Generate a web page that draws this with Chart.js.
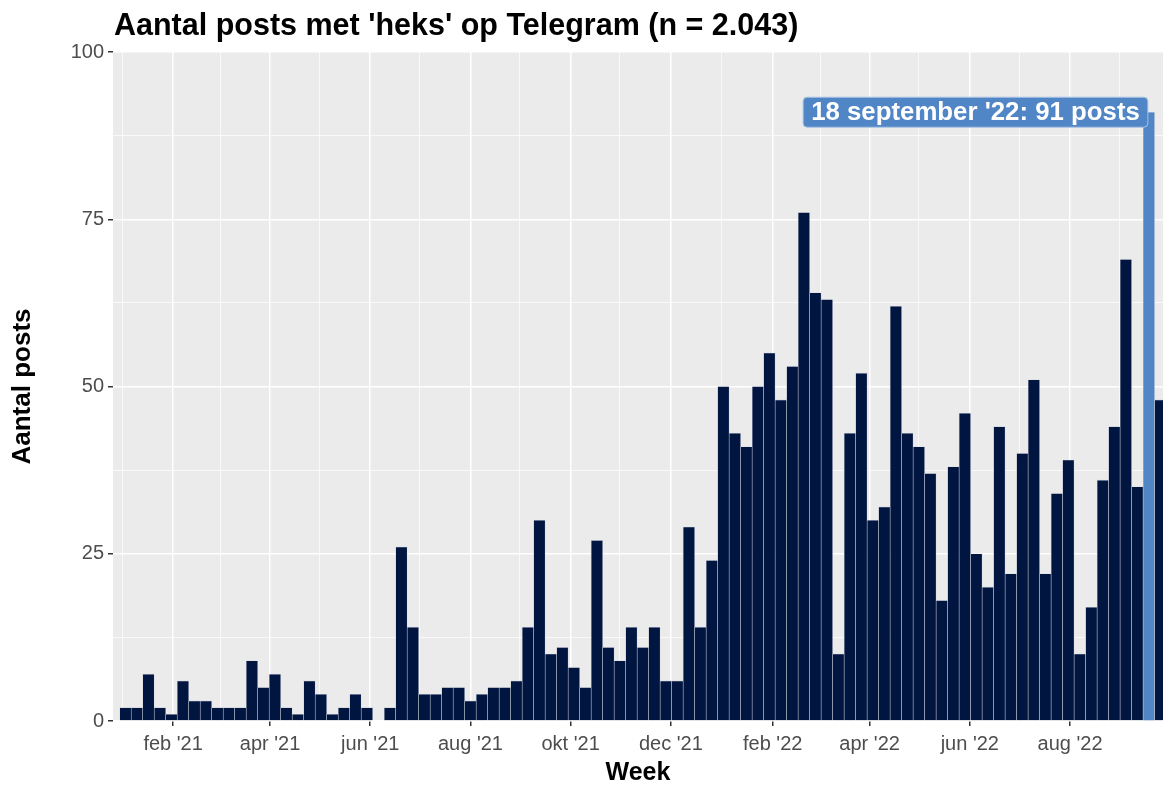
<!DOCTYPE html>
<html>
<head>
<meta charset="utf-8">
<script src="https://cdn.jsdelivr.net/npm/chart.js@4"></script>
<style>
  html, body { margin: 0; padding: 0; background: #fff; }
</style>
</head>
<body>
<canvas id="chart" width="1163" height="785"></canvas>
<script>
// weekly counts, first week starts on 3 januari 2021
let firstWeek = '2021-01-03';
let posts = [2, 2, 7, 2, 1, 6, 3, 3, 2, 2, 2, 9, 5, 7, 2, 1, 6, 4, 1, 2, 4, 2, 0, 2,
  26, 14, 4, 4, 5, 5, 3, 4, 5, 5, 6, 14, 30, 10, 11, 8, 5, 27, 11, 9, 14, 11, 14, 6, 6,
  29, 14, 24, 50, 43, 41, 50, 55, 48, 53, 76, 64, 63, 10, 43, 52, 30, 32, 62, 43, 41,
  37, 18, 38, 46, 25, 20, 44, 22, 40, 51, 22, 34, 39, 10, 17, 36, 44, 69, 35, 91, 48];
let highlightWeek = 89; // 18 september '22
let highlightLabel = "18 september '22: 91 posts";

// x axis month ticks (major) and the gridlines in between (minor)
let tickDates = ['2021-02-01', '2021-04-01', '2021-06-01', '2021-08-01', '2021-10-01', '2021-12-01',
  '2022-02-01', '2022-04-01', '2022-06-01', '2022-08-01'];
let tickLabels = ["feb '21", "apr '21", "jun '21", "aug '21", "okt '21", "dec '21",
  "feb '22", "apr '22", "jun '22", "aug '22"];
let minorDates = ['2021-01-01', '2021-03-02', '2021-05-01', '2021-07-01', '2021-08-31', '2021-10-31',
  '2022-01-01', '2022-03-02', '2022-05-01', '2022-07-01', '2022-08-31'];
let yTicks = [0, 25, 50, 75, 100];

const FONT = '"Liberation Sans", Arial, sans-serif';

// days since first week
function dayOf(s) {
  return (Date.parse(s) - Date.parse(firstWeek)) / 86400000;
}

let points = posts.map((v, i) => ({ x: i * 7, y: v }));
let majorDays = tickDates.map(dayOf);
let minorDays = minorDates.map(dayOf);

function isMajor(v) {
  return majorDays.some(d => Math.abs(d - v) < 0.01);
}
function tickVal(ctx) {
  return ctx.tick ? ctx.tick.value : NaN;
}

const panelBg = {
  id: 'panelBg',
  beforeDraw(chart) {
    const a = chart.chartArea;
    const ctx = chart.ctx;
    ctx.save();
    ctx.fillStyle = '#ebebeb';
    ctx.fillRect(a.left, a.top, a.right - a.left, a.bottom - a.top);
    ctx.restore();
  }
};

const extras = {
  id: 'extras',
  afterDraw(chart) {
    const ctx = chart.ctx;
    const xs = chart.scales.x, ys = chart.scales.y;
    // title
    ctx.save();
    ctx.fillStyle = '#000';
    ctx.font = 'bold 30.5px ' + FONT;
    ctx.textBaseline = 'alphabetic';
    ctx.fillText("Aantal posts met 'heks' op Telegram (n = 2.043)", 114, 35);

    // label for the highlighted week
    const px = xs.getPixelForValue(highlightWeek * 7) - 1;
    const py = ys.getPixelForValue(posts[highlightWeek]);
    ctx.font = 'bold 25.8px ' + FONT;
    const w = ctx.measureText(highlightLabel).width + 16;
    const h = 30;
    const x0 = px - w, y0 = py - h / 2;
    ctx.beginPath();
    ctx.roundRect(x0, y0, w, h, 4);
    ctx.fillStyle = '#5085c6';
    ctx.fill();
    ctx.strokeStyle = '#a9c3e4';
    ctx.lineWidth = 1;
    ctx.stroke();
    ctx.fillStyle = '#fff';
    ctx.textAlign = 'center';
    ctx.textBaseline = 'middle';
    ctx.fillText(highlightLabel, x0 + w / 2, py + 1);
    ctx.restore();
  }
};

let chart = new Chart(document.getElementById('chart'), {
  type: 'bar',
  data: {
    datasets: [{
      data: points,
      backgroundColor: posts.map((v, i) => i === highlightWeek ? '#5085c6' : '#001540'),
      borderColor: 'rgba(195,200,212,0.75)',
      borderWidth: 0.6,
      categoryPercentage: 1,
      barPercentage: 1
    }]
  },
  options: {
    responsive: false,
    animation: false,
    devicePixelRatio: 1,
    layout: { padding: { top: 52, right: 0, bottom: 0, left: 0 } },
    plugins: {
      legend: { display: false },
      tooltip: { enabled: false }
    },
    scales: {
      x: {
        type: 'linear',
        offset: false,
        min: -7.6,
        max: 631.6,
        afterFit(scale) { scale.height = 64; },
        afterBuildTicks(scale) {
          scale.ticks = majorDays.concat(minorDays).sort((a, b) => a - b).map(v => ({ value: v }));
        },
        border: { display: false },
        grid: {
          offset: false,
          color: '#ffffff',
          lineWidth: ctx => isMajor(tickVal(ctx)) ? 1.5 : 0.7,
          tickColor: ctx => isMajor(tickVal(ctx)) ? '#333333' : 'rgba(0,0,0,0)',
          tickLength: 5
        },
        ticks: {
          autoSkip: false,
          maxRotation: 0,
          padding: 6,
          color: '#4d4d4d',
          font: { family: FONT, size: 20 },
          callback: v => {
            const k = majorDays.findIndex(d => Math.abs(d - v) < 0.01);
            return k >= 0 ? tickLabels[k] : '';
          }
        },
        title: {
          display: true,
          text: 'Week',
          color: '#000',
          font: { family: FONT, size: 25, weight: 'bold' },
          padding: { top: 0, bottom: -3 }
        }
      },
      y: {
        min: 0,
        max: 100,
        afterFit(scale) { scale.width = 113; },
        afterBuildTicks(scale) {
          const t = [];
          yTicks.forEach((v, i) => {
            t.push({ value: v });
            if (i < yTicks.length - 1) t.push({ value: v + 12.5 });
          });
          scale.ticks = t;
        },
        border: { display: false },
        grid: {
          color: '#ffffff',
          lineWidth: ctx => yTicks.includes(tickVal(ctx)) ? 1.5 : 0.7,
          tickColor: ctx => yTicks.includes(tickVal(ctx)) ? '#333333' : 'rgba(0,0,0,0)',
          tickLength: 5
        },
        ticks: {
          padding: 4,
          color: '#4d4d4d',
          font: { family: FONT, size: 20 },
          callback: v => yTicks.includes(v) ? String(v) : ''
        },
        title: {
          display: true,
          text: 'Aantal posts',
          color: '#000',
          font: { family: FONT, size: 26, weight: 'bold' },
          padding: { top: 7, bottom: 0 }
        }
      }
    }
  },
  plugins: [panelBg, extras]
});
</script>
</body>
</html>
